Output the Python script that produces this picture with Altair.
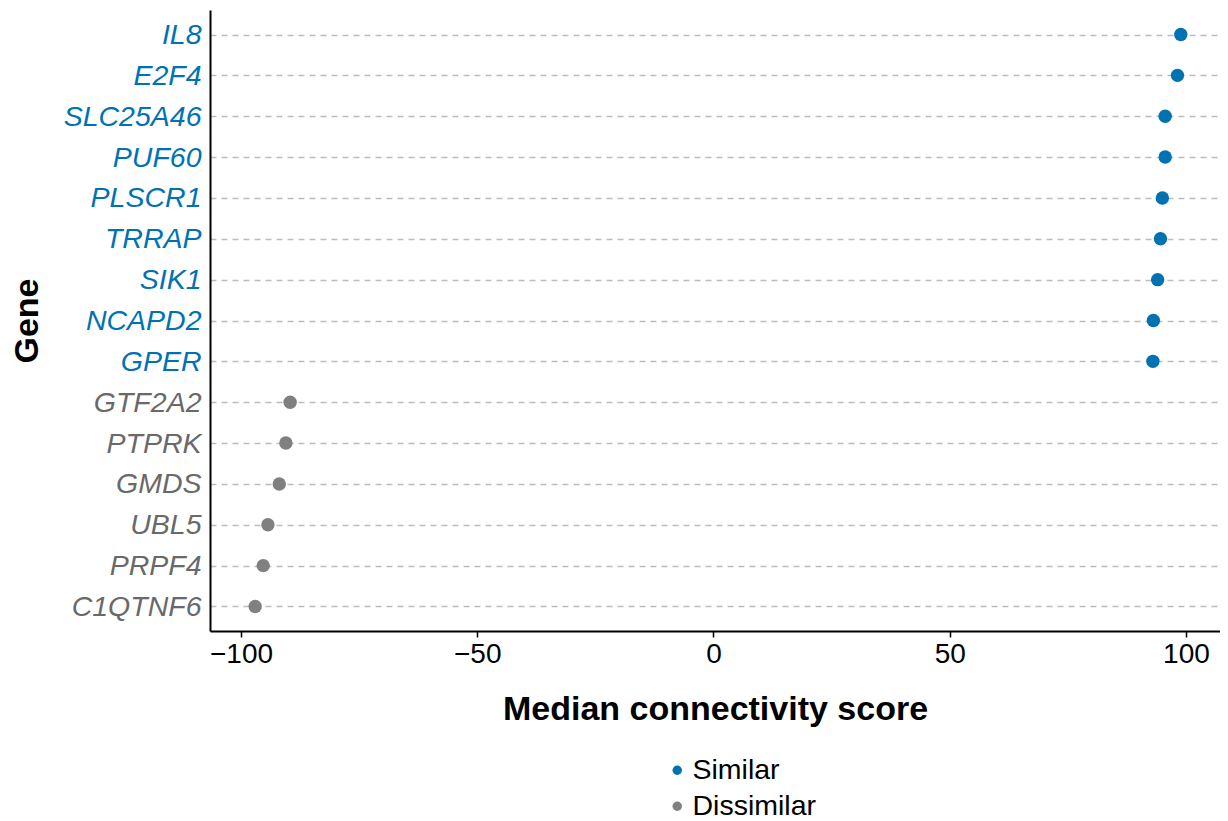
import altair as alt
import pandas as pd

genes = ["IL8", "E2F4", "SLC25A46", "PUF60", "PLSCR1", "TRRAP", "SIK1", "NCAPD2", "GPER",
         "GTF2A2", "PTPRK", "GMDS", "UBL5", "PRPF4", "C1QTNF6"]
scores = [98.9, 98.2, 95.6, 95.6, 95.0, 94.6, 94.0, 93.1, 93.0,
          -89.6, -90.5, -91.9, -94.3, -95.3, -97.0]
groups = ["Similar"] * 9 + ["Dissimilar"] * 6
x_ticks = [-100, -50, 0, 50, 100]

df = pd.DataFrame({"gene": genes, "score": scores, "group": groups})

similar_list = ",".join("'" + g + "'" for g, grp in zip(genes, groups) if grp == "Similar")
label_color_expr = f"indexof([{similar_list}], datum.value) >= 0 ? '#0072B2' : '#696969'"

FONT = "Liberation Sans"

chart = alt.Chart(df).mark_circle(size=180, opacity=1).encode(
    x=alt.X("score:Q",
            scale=alt.Scale(domain=[-106.56, 107.2], nice=False, zero=False),
            axis=alt.Axis(title="Median connectivity score", values=x_ticks, format="d",
                          grid=False, domainColor="black", domainWidth=2,
                          tickColor="black", tickWidth=1.5, tickSize=6,
                          labelFontSize=28, labelColor="black", labelPadding=3,
                          labelFont=FONT, titleFont=FONT, titleFontSize=34,
                          titleFontWeight="bold", titleColor="black", titlePadding=24)),
    y=alt.Y("gene:N", sort=genes,
            scale=alt.Scale(type="point", padding=0.6),
            axis=alt.Axis(title="Gene", ticks=False, grid=True, gridDash=[6, 5],
                          gridColor="#bdbdbd", gridWidth=1.3,
                          domainColor="black", domainWidth=2,
                          labelFontSize=28.5, labelFontStyle="italic", labelFont=FONT,
                          labelColor=alt.expr(label_color_expr), labelPadding=9,
                          titleFont=FONT, titleFontSize=34, titleFontWeight="bold",
                          titleColor="black", titlePadding=19)),
    color=alt.Color("group:N",
                    scale=alt.Scale(domain=["Similar", "Dissimilar"], range=["#0072B2", "#808080"]),
                    legend=alt.Legend(title=None, orient="none", legendX=453, legendY=746,
                                      direction="vertical", symbolType="circle", symbolSize=90,
                                      symbolOpacity=1, labelFontSize=28.5, labelFont=FONT,
                                      labelColor="black", labelOffset=1, rowPadding=7,
                                      padding=0)),
).properties(
    width=1010, height=621,
    autosize=alt.AutoSizeParams(type="none"),
    padding={"left": 202, "top": 2, "right": 0, "bottom": 190},
).configure(background="white").configure_view(stroke=None)

chart.save("out.html", embed_options={"renderer": "svg", "actions": False})
